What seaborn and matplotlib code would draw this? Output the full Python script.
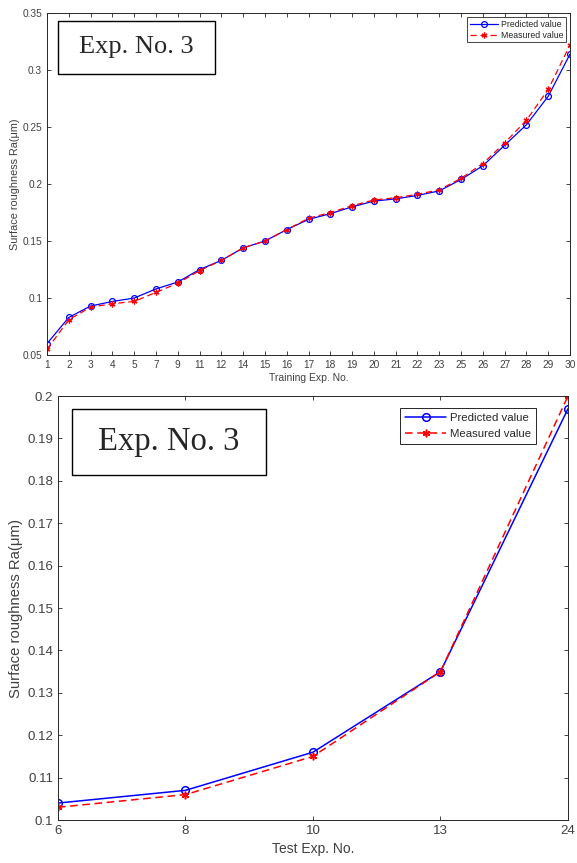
import numpy as np
import pandas as pd
import matplotlib
matplotlib.use("Agg")
import matplotlib.pyplot as plt
import matplotlib.patches as patches
import seaborn as sns

# training set (top panel)
train_exp = ["1", "2", "3", "4", "5", "7", "9", "11", "12", "14", "15", "16", "17",
             "18", "19", "20", "21", "22", "23", "25", "26", "27", "28", "29", "30"]
train_pred = [0.060, 0.083, 0.093, 0.097, 0.100, 0.108, 0.114, 0.125, 0.133, 0.144,
              0.150, 0.160, 0.169, 0.174, 0.180, 0.185, 0.187, 0.190, 0.194, 0.204,
              0.216, 0.234, 0.252, 0.277, 0.314]
train_meas = [0.055, 0.081, 0.092, 0.095, 0.097, 0.105, 0.113, 0.124, 0.133, 0.144,
              0.150, 0.160, 0.170, 0.175, 0.181, 0.186, 0.188, 0.191, 0.195, 0.205,
              0.218, 0.236, 0.256, 0.283, 0.322]

# test set (bottom panel)
test_exp = ["6", "8", "10", "13", "24"]
test_pred = [0.104, 0.107, 0.116, 0.135, 0.197]
test_meas = [0.103, 0.106, 0.115, 0.135, 0.200]

ylim_top = (0.05, 0.35)
yticks_top = [0.05, 0.1, 0.15, 0.2, 0.25, 0.3, 0.35]
ylim_bot = (0.1, 0.2)
yticks_bot = [0.1, 0.11, 0.12, 0.13, 0.14, 0.15, 0.16, 0.17, 0.18, 0.19, 0.2]

sns.set_style("white")
plt.rcParams["font.family"] = ["Liberation Sans", "DejaVu Sans"]

GREY = "#262626"
ASTERISK = (6, 2, 0)


def draw_panel(ax, labels, pred, meas, fs, ms, lw):
    df = pd.DataFrame({"pos": np.arange(len(labels)), "pred": pred, "meas": meas})
    sns.lineplot(data=df, x="pos", y="pred", ax=ax, color="#0000ff", lw=lw,
                 marker="o", markersize=ms, markerfacecolor="none",
                 markeredgecolor="#0000ff", markeredgewidth=lw,
                 label="Predicted value")
    sns.lineplot(data=df, x="pos", y="meas", ax=ax, color="#ff0000", lw=lw,
                 linestyle=(0, (5, 3)), marker=ASTERISK, markersize=ms,
                 markeredgecolor="#ff0000", markeredgewidth=lw,
                 label="Measured value")
    ax.set_xlim(0, len(labels) - 1)
    ax.set_xticks(df["pos"])
    ax.set_xticklabels(labels)
    for sp in ax.spines.values():
        sp.set_color(GREY)
        sp.set_linewidth(0.7)
    ax.tick_params(direction="in", length=3, width=0.6, colors=GREY,
                   labelsize=fs, labelcolor="#404040",
                   top=True, right=True, bottom=True, left=True)


def exp_box(ax, x0, y0, w, h, fs):
    ax.add_patch(patches.Rectangle((x0, y0), w, h, transform=ax.transAxes,
                                   facecolor="white", edgecolor="black", lw=1.0, zorder=5))
    ax.text(x0 + w / 2, y0 + h / 2, "Exp. No. 3", transform=ax.transAxes,
            ha="center", va="center", fontsize=fs, family="Liberation Serif", zorder=6)


fig = plt.figure(figsize=(5.77, 8.63), dpi=100)

# top: training experiments
ax1 = fig.add_axes([0.0815, 0.5886, 0.9064, 0.3963])
draw_panel(ax1, train_exp, train_pred, train_meas, fs=7.3, ms=4.2, lw=0.9)
ax1.set_ylim(*ylim_top)
ax1.set_yticks(yticks_top)
ax1.set_yticklabels([f"{v:g}" for v in yticks_top])
ax1.set_xlabel("Training Exp. No.", fontsize=7.5, color="#404040", labelpad=2)
ax1.set_ylabel("Surface roughness Ra(\u03bcm)", fontsize=7.8, color="#404040", labelpad=2)
exp_box(ax1, 0.021, 0.822, 0.300, 0.155, 19)
leg1 = ax1.legend(loc="upper right", fontsize=6.3, handlelength=3.2, borderpad=0.3,
                  labelspacing=0.2, handletextpad=0.3, fancybox=False,
                  framealpha=1, edgecolor=GREY, borderaxespad=0.5)
leg1.get_frame().set_linewidth(0.6)

# bottom: test experiments
ax2 = fig.add_axes([0.1005, 0.0498, 0.8839, 0.4913])
draw_panel(ax2, test_exp, test_pred, test_meas, fs=9.5, ms=5.5, lw=1.1)
ax2.set_ylim(*ylim_bot)
ax2.set_yticks(yticks_bot)
ax2.set_yticklabels([f"{v:g}" for v in yticks_bot])
ax2.set_xlabel("Test Exp. No.", fontsize=10, color="#404040", labelpad=4)
ax2.set_ylabel("Surface roughness Ra(\u03bcm)", fontsize=10.7, color="#404040", labelpad=3)
exp_box(ax2, 0.0275, 0.8137, 0.380, 0.1557, 23.5)
leg2 = ax2.legend(loc="upper right", fontsize=8.2, handlelength=3.6, borderpad=0.45,
                  labelspacing=0.5, handletextpad=0.3, fancybox=False,
                  framealpha=1, edgecolor=GREY, borderaxespad=0.0,
                  bbox_to_anchor=(0.937, 0.972))
leg2.get_frame().set_linewidth(0.7)

fig.savefig("out.png", dpi=100)
plt.close(fig)
